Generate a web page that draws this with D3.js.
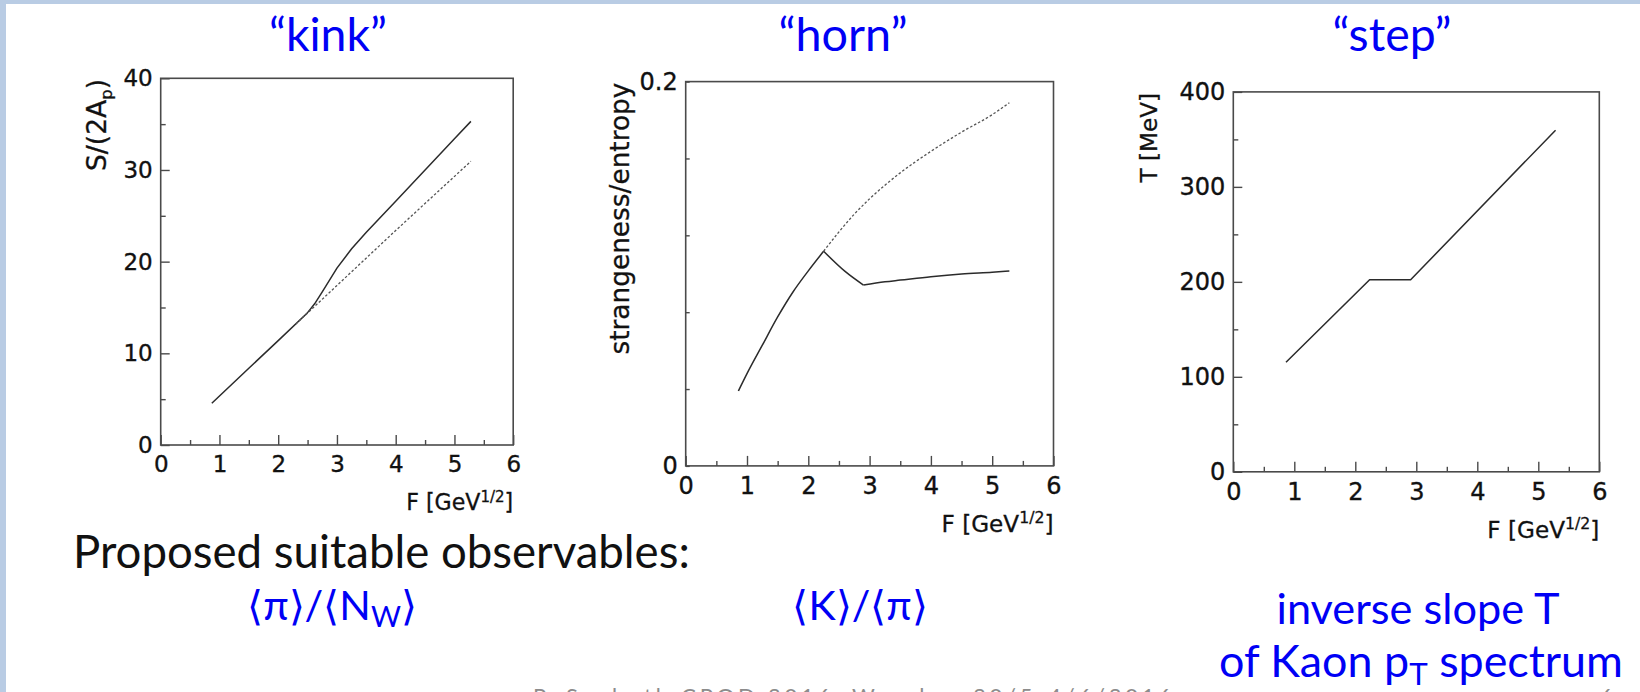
<!DOCTYPE html>
<html>
<head>
<meta charset="utf-8">
<script src="https://cdn.jsdelivr.net/npm/d3@7"></script>
<style>
  html, body { margin: 0; padding: 0; background: #fff; }
  svg { display: block; }
</style>
</head>
<body>
<svg id="slide" width="1640" height="692"></svg>
<script>
// ---- data -------------------------------------------------------------
const fTicks = [0, 1, 2, 3, 4, 5, 6];
const fMinor = [0.5, 1.5, 2.5, 3.5, 4.5, 5.5];

// S/(2A_p) versus F
const kinkTicks = [0, 10, 20, 30, 40];
const kinkMinor = [5, 15, 25, 35];
const kinkWithTransition = [[0.87, 4.55], [1.5, 8.37], [2.0, 11.39], [2.49, 14.36], [2.62, 15.4],
                            [2.75, 16.7], [3.0, 19.3], [3.25, 21.4], [3.5, 23.2], [4.0, 26.6],
                            [4.5, 30.0], [5.0, 33.4], [5.28, 35.3]];
const kinkHadronGas = [[2.3, 13.2], [3.0, 17.4], [4.0, 23.4], [5.28, 30.95]];

// strangeness/entropy versus F
const hornTicks = [0, 0.04, 0.08, 0.12, 0.16, 0.2];
const hornLabels = ["0", "", "", "", "", "0.2"];
const hornRise = [[0.86, 0.039], [1.0, 0.048], [1.25, 0.0628], [1.5, 0.0775], [1.75, 0.0905],
                  [2.0, 0.1015], [2.25, 0.1117]];
const hornDrop = [[2.25, 0.1117], [2.6, 0.1012], [2.9, 0.0941]];
const hornPlateau = [[2.9, 0.0941], [3.25, 0.0958], [3.5, 0.0967], [4.0, 0.0985], [4.5, 0.0999],
                     [5.0, 0.1008], [5.28, 0.1014]];
const hornHadronGas = [[2.25, 0.1117], [2.5, 0.1218], [2.75, 0.131], [3.0, 0.139], [3.5, 0.1525],
                       [4.0, 0.1637], [4.5, 0.1737], [5.0, 0.1828], [5.28, 0.189]];

// inverse slope T versus F
const stepTicks = [0, 100, 200, 300, 400];
const stepMinor = [50, 150, 250, 350];
const stepT = [[0.864, 115.3], [2.235, 202.2], [2.907, 202.2], [5.283, 359.7]];

// ---- drawing ----------------------------------------------------------
const svg = d3.select("#slide");
const BLUE = "#0000f5";
const AXIS_FONT = "'DejaVu Sans', 'Liberation Sans', sans-serif";
const SLIDE_FONT = "Lato, 'Open Sans', 'Noto Sans', sans-serif";

svg.append("rect").attr("width", 1640).attr("height", 692).attr("fill", "#fff");
svg.append("rect").attr("x", 0).attr("y", 0).attr("width", 6).attr("height", 692).attr("fill", "#b9cce4");
svg.append("rect").attr("x", 0).attr("y", 0).attr("width", 1640).attr("height", 4).attr("fill", "#b9cce4");

// scale a text's font-size so that its advance equals a given width
function fitWidth(sel, width) {
  const len = sel.node().getComputedTextLength();
  const fs = parseFloat(sel.attr("font-size"));
  sel.attr("font-size", (fs * width / len).toFixed(2));
  return sel;
}

const panels = [
  { box: [160.7, 78.3, 513.2, 445], y: [0, 40], yTicks: kinkTicks, yMinor: kinkMinor, fs: 23,
    yFmt: d => String(d), yTitle: ["S/(2A", "p", ")"], yTitlePos: [106, 79], yTitleLen: 92,
    xTitleBase: 510, xTitleLen: 107,
    curves: [{ pts: kinkWithTransition, dash: null },
             { pts: kinkHadronGas, dash: "2.5,2" }] },
  { box: [685.7, 81.6, 1053.5, 465.9], y: [0, 0.2], yTicks: hornTicks, yMinor: [], fs: 24,
    yFmt: (d, i) => hornLabels[i], yTitle: ["strangeness/entropy"], yTitlePos: [629, 82.6], yTitleLen: 272,
    xTitleBase: 532, xTitleLen: 112, ySmall: true,
    curves: [{ pts: hornRise, dash: null, smooth: true },
             { pts: hornDrop, dash: null, smooth: true },
             { pts: hornPlateau, dash: null, smooth: true },
             { pts: hornHadronGas, dash: "2.5,2", smooth: true }] },
  { box: [1233.3, 91.9, 1599.3, 471.8], y: [0, 400], yTicks: stepTicks, yMinor: stepMinor, fs: 24,
    yFmt: d => String(d), yTitle: ["T [MeV]"], yTitlePos: [1157, 93], yTitleLen: 89.5,
    xTitleBase: 538, xTitleLen: 112,
    curves: [{ pts: stepT, dash: null }] }
];

panels.forEach(p => {
  const [l, t, r, b] = p.box;
  const x = d3.scaleLinear().domain([0, 6]).range([l, r]);
  const y = d3.scaleLinear().domain(p.y).range([b, t]);
  const g = svg.append("g");

  // x axis: major and minor ticks pointing into the frame
  g.append("g").attr("transform", `translate(0,${b})`)
    .call(d3.axisBottom(x).tickValues(fTicks).tickSize(-10).tickSizeOuter(0).tickPadding(11).tickFormat(d3.format("d")));
  g.append("g").attr("transform", `translate(0,${b})`)
    .call(d3.axisBottom(x).tickValues(fMinor).tickSize(-5).tickSizeOuter(0).tickFormat(""));

  // y axis
  g.append("g").attr("transform", `translate(${l},0)`)
    .call(d3.axisLeft(y).tickValues(p.yTicks).tickSize(p.ySmall ? -4 : -9).tickSizeOuter(0).tickPadding(8).tickFormat(p.yFmt));
  if (p.yMinor.length) {
    g.append("g").attr("transform", `translate(${l},0)`)
      .call(d3.axisLeft(y).tickValues(p.yMinor).tickSize(-5).tickSizeOuter(0).tickFormat(""));
  }

  g.selectAll(".domain").remove();
  g.selectAll(".tick line").attr("stroke", "#4a4a4a").attr("stroke-width", 1.4);
  g.selectAll(".tick text").attr("font-family", AXIS_FONT).attr("font-size", p.fs).attr("fill", "#111")
    .attr("stroke", "#111").attr("stroke-width", 0.35);

  // frame
  g.append("rect").attr("x", l).attr("y", t).attr("width", r - l).attr("height", b - t)
    .attr("fill", "none").attr("stroke", "#4a4a4a").attr("stroke-width", 1.6);

  // curves
  p.curves.forEach(c => {
    const line = d3.line().x(d => x(d[0])).y(d => y(d[1]))
      .curve(c.smooth ? d3.curveMonotoneX : d3.curveLinear);
    g.append("path").attr("d", line(c.pts)).attr("fill", "none")
      .attr("stroke", c.dash ? "#555" : "#2b2b2b").attr("stroke-width", c.dash ? 1.3 : 1.5)
      .attr("stroke-dasharray", c.dash);
  });

  // x title
  const xt = g.append("text").attr("x", r).attr("y", p.xTitleBase).attr("text-anchor", "end")
    .attr("font-family", AXIS_FONT).attr("font-size", 24).attr("fill", "#111")
    .attr("stroke", "#111").attr("stroke-width", 0.3);
  xt.append("tspan").text("F [GeV");
  xt.append("tspan").attr("font-size", "0.68em").attr("dy", "-0.55em").text("1/2");
  xt.append("tspan").attr("dy", "0.37em").text("]");
  fitWidth(xt, p.xTitleLen);

  // y title
  const yt = g.append("text").attr("transform", `translate(${p.yTitlePos[0]},${p.yTitlePos[1]}) rotate(-90)`)
    .attr("text-anchor", "end").attr("font-family", AXIS_FONT).attr("font-size", 24).attr("fill", "#111")
    .attr("stroke", "#111").attr("stroke-width", 0.3);
  if (p.yTitle.length === 3) {
    yt.append("tspan").text(p.yTitle[0]);
    yt.append("tspan").attr("font-size", "0.62em").attr("dy", "0.35em").text(p.yTitle[1]);
    yt.append("tspan").attr("dy", "-0.22em").text(p.yTitle[2]);
  } else {
    yt.text(p.yTitle[0]);
  }
  fitWidth(yt, p.yTitleLen);
});

// ---- slide texts ------------------------------------------------------
const titles = [["\u201Ckink\u201D", 328, 118], ["\u201Chorn\u201D", 843, 129], ["\u201Cstep\u201D", 1392, 119]];
titles.forEach(([txt, cx, w]) => {
  fitWidth(svg.append("text").attr("x", cx).attr("y", 51).attr("text-anchor", "middle")
    .attr("font-family", SLIDE_FONT).attr("font-size", 44).attr("fill", BLUE).text(txt), w);
});

fitWidth(svg.append("text").attr("x", 73).attr("y", 568).attr("font-family", SLIDE_FONT)
  .attr("font-size", 44).attr("fill", "#111").text("Proposed suitable observables:"), 617);

function blueLabel(cx, base, parts) {
  const t = svg.append("text").attr("x", cx).attr("y", base).attr("text-anchor", "middle")
    .attr("font-family", SLIDE_FONT).attr("font-size", 40).attr("fill", BLUE);
  parts.forEach(([s, sub]) => {
    const sp = t.append("tspan").text(s);
    if (sub === 1) sp.attr("font-size", "0.7em").attr("dy", "0.25em");
    if (sub === -1) sp.attr("dy", "-0.175em");
  });
  return t;
}
fitWidth(blueLabel(332, 620, [["\u27E8\u03C0\u27E9/\u27E8N"], ["W", 1], ["\u27E9", -1]]), 172);
fitWidth(blueLabel(860, 620, [["\u27E8K\u27E9/\u27E8\u03C0\u27E9"]]), 137);
fitWidth(blueLabel(1418, 624, [["inverse slope T"]]), 283);
fitWidth(blueLabel(1421, 677, [["of Kaon p"], ["T", 1], [" spectrum", -1]]), 404);

// footer, clipped by the bottom edge
svg.append("text").attr("x", 533).attr("y", 704).attr("font-family", SLIDE_FONT)
  .attr("font-size", 22).attr("fill", "#8c8c8c")
  .attr("textLength", 638).attr("lengthAdjust", "spacing")
  .text("P. Seyboth      CPOD 2016, Wroclaw      30/5-4/6/2016");
svg.append("text").attr("x", 1600).attr("y", 704).attr("font-family", SLIDE_FONT)
  .attr("font-size", 22).attr("fill", "#8c8c8c").text("6");
</script>
</body>
</html>
